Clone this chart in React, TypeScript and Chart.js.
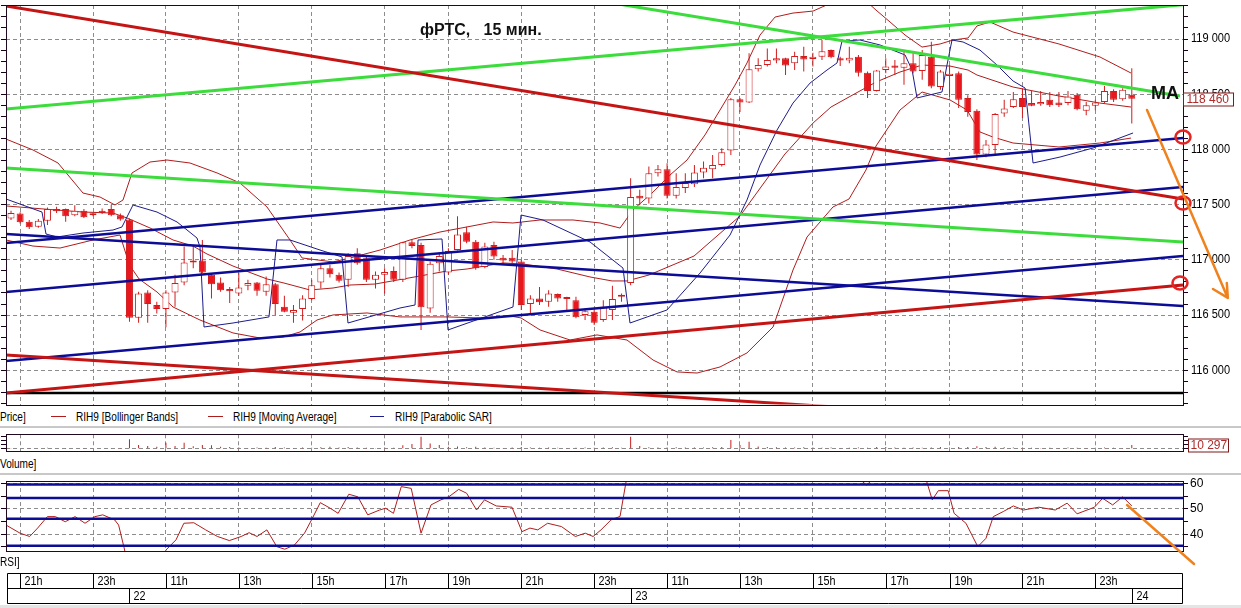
import React, { useEffect, useRef } from 'react';
import { Chart, registerables } from 'chart.js';

Chart.register(...registerables);

const FONT = '"Liberation Sans", Arial, sans-serif';

// ---- time axis (bar index) ----
const X_MIN = -0.55;
const X_MAX = 128.62;
const HOUR_TICKS = [1, 9, 17, 25, 33, 41, 48, 56, 64, 72, 80, 88, 96, 103, 111, 119];
const HOUR_LABELS = ['21h', '23h', '11h', '13h', '15h', '17h', '19h', '21h', '23h', '11h', '13h', '15h', '17h', '19h', '21h', '23h'];
const DAY_TICKS = [13, 68, 123];
const DAY_LABELS = ['22', '23', '24'];

// ---- price axis ----
const PRICE_MIN = 115690;
const PRICE_MAX = 119308;
const PRICE_LABELS = [116000, 116500, 117000, 117500, 118000, 118500, 119000];
const LAST_PRICE = 118460;

// ---- candles (15 min) ----
const OPEN = [
  117375, 117420, 117345, 117300, 117355, 117460, 117460, 117405, 117445, 117420,
  117445, 117460, 117405, 117365, 116475, 116705, 116590, 116555, 116705, 116795,
  116975, 116995, 116865, 116795, 116735, 116695, 116765, 116795, 116710, 116780,
  116575, 116520, 116555, 116645, 116795, 116925, 116865, 116820, 117060, 117015,
  116820, 116865, 116900, 116820, 117160, 117135, 116560, 116970, 116885, 117090,
  117250, 117165, 116935, 117135, 117020, 117020, 116985, 116600, 116650, 116620,
  116690, 116645, 116635, 116500, 116530, 116455, 116545, 116675, 116790, 117580,
  117555, 117785, 117820, 117580, 117650, 117685, 117790, 117820, 117860, 117990,
  118455, 118425, 118725, 118765, 118805, 118825, 118780, 118845, 118820, 118840,
  118900, 118825, 118805, 118840, 118695, 118530, 118720, 118760, 118740, 118780,
  118710, 118840, 118565, 118665, 118690, 118465, 118350, 117955, 118040, 118325,
  118385, 118465, 118420, 118410, 118450, 118425, 118420, 118495, 118350, 118395,
  118430, 118530, 118455, 118495,
];
const HIGH = [
  117445, 117430, 117360, 117370, 117475, 117480, 117465, 117495, 117460, 117425,
  117465, 117500, 117420, 117375, 116710, 116725, 116620, 116725, 116865, 117120,
  117135, 117180, 116880, 116840, 116755, 116880, 116820, 116800, 116850, 116790,
  116675, 116590, 116680, 116820, 116955, 116955, 116885, 117060, 117105, 117030,
  116895, 116925, 116940, 117165, 117180, 117155, 116985, 117065, 117105, 117395,
  117300, 117180, 117155, 117165, 117045, 117090, 117000, 116680, 116755, 116725,
  116695, 116665, 116665, 116560, 116545, 116635, 116765, 116695, 117740, 117635,
  117845, 117860, 117875, 117785, 117785, 117860, 117890, 117950, 118010, 118465,
  118465, 118870, 118825, 118915, 118915, 118830, 118885, 118930, 118875, 118990,
  118905, 118840, 118930, 118855, 118705, 118720, 118825, 118810, 118885, 118870,
  118900, 118975, 118720, 118765, 118705, 118490, 118365, 118085, 118330, 118450,
  118520, 118555, 118530, 118530, 118520, 118520, 118530, 118510, 118430, 118450,
  118575, 118545, 118555, 118735,
];
const LOW = [
  117360, 117330, 117280, 117290, 117315, 117425, 117345, 117395, 117380, 117395,
  117415, 117395, 117355, 116440, 116430, 116430, 116515, 116390, 116575, 116770,
  116925, 116880, 116650, 116710, 116610, 116675, 116725, 116675, 116675, 116500,
  116525, 116430, 116450, 116635, 116740, 116840, 116795, 116755, 116955, 116800,
  116740, 116695, 116800, 116800, 117105, 116365, 116520, 116895, 116865, 117085,
  117150, 116910, 116925, 117000, 116965, 116965, 116545, 116500, 116590, 116575,
  116620, 116530, 116470, 116455, 116410, 116440, 116455, 116620, 116770, 117495,
  117510, 117755, 117555, 117555, 117605, 117660, 117740, 117740, 117845, 117950,
  118340, 118420, 118705, 118750, 118780, 118675, 118720, 118705, 118750, 118810,
  118825, 118755, 118780, 118660, 118465, 118525, 118690, 118675, 118585, 118690,
  118630, 118555, 118540, 118475, 118375, 118295, 117905, 117930, 117950, 118295,
  118375, 118285, 118390, 118395, 118385, 118385, 118400, 118355, 118310, 118355,
  118420, 118430, 118440, 118235,
];
const CLOSE = [
  117425, 117340, 117295, 117355, 117460, 117440, 117395, 117445, 117385, 117405,
  117425, 117405, 117365, 116475, 116695, 116600, 116555, 116705, 116790, 116975,
  116995, 116885, 116780, 116725, 116715, 116750, 116790, 116720, 116780, 116600,
  116530, 116545, 116650, 116770, 116925, 116870, 116810, 117035, 116970, 116820,
  116865, 116890, 116820, 117160, 117125, 116570, 116965, 117035, 117080, 117230,
  117165, 116925, 117120, 117030, 116995, 116985, 116590, 116650, 116615, 116695,
  116650, 116660, 116480, 116535, 116430, 116575, 116645, 116665, 117570, 117555,
  117785, 117820, 117580, 117660, 117695, 117790, 117835, 117860, 117975, 118455,
  118425, 118725, 118765, 118810, 118825, 118760, 118845, 118815, 118840, 118890,
  118835, 118805, 118830, 118695, 118530, 118715, 118750, 118740, 118780, 118705,
  118855, 118570, 118705, 118685, 118450, 118340, 117955, 118045, 118320, 118370,
  118455, 118385, 118395, 118430, 118400, 118400, 118480, 118365, 118400, 118425,
  118530, 118450, 118540, 118460,
];

// ---- indicators (read at sample points: bar index / value) ----
const BB_UP_X = [-0.55, 2.41, 5.16, 7.9, 9.77, 11.41, 12.29, 13.28, 15.25, 17.12, 19.64, 22.61, 25.13, 28.09, 30.62, 31.94, 35.34, 37.2, 40.5, 43.79, 47.08, 50.04, 52.9, 55.09, 58.06, 61.68, 64.64, 66.84, 68.26, 70.46, 72.32, 74.19, 76.16, 77.81, 79.46, 80.77, 82.2, 83.85, 85.82, 88.02, 90.0, 91.97, 93.72, 94.93, 96.47, 98.12, 99.98, 101.96, 103.38, 105.03, 106.01, 107.44, 109.97, 115.01, 119.51, 122.91];
const BB_UP_V = [118094, 117995, 117877, 117605, 117569, 117497, 117542, 117787, 117886, 117904, 117877, 117787, 117696, 117479, 117180, 117017, 116981, 117017, 117089, 117180, 117252, 117298, 117343, 117334, 117361, 117361, 117334, 117288, 117452, 117614, 117768, 117904, 118131, 118357, 118583, 118783, 119036, 119199, 119235, 119253, 119326, 119398, 119353, 119262, 119154, 119036, 118927, 118955, 118991, 119009, 119118, 119154, 119063, 118955, 118837, 118692];
const MA_X = [-0.55, 3.51, 7.9, 11.19, 12.73, 15.25, 17.78, 19.97, 21.51, 24.36, 28.09, 29.96, 32.81, 35.34, 37.2, 39.95, 44.89, 47.85, 50.04, 53.99, 56.19, 59.92, 63.54, 65.96, 67.6, 70.02, 74.96, 80.0, 84.94, 88.02, 89.99, 91.97, 94.93, 97.56, 99.98, 103.05, 105.03, 106.01, 109.97, 115.01, 119.51, 122.91];
const MA_V = [117488, 117461, 117433, 117424, 117379, 117289, 117180, 117125, 117053, 116944, 116827, 116790, 116727, 116745, 116772, 116781, 116854, 116899, 116917, 116972, 116962, 116917, 116845, 116809, 116809, 116863, 117035, 117397, 117959, 118239, 118384, 118475, 118610, 118701, 118764, 118755, 118719, 118674, 118565, 118484, 118420, 118384];
const BB_LO_X = [-0.55, 2.41, 5.38, 9.0, 11.96, 13.0, 14.05, 16.02, 17.78, 20.74, 24.36, 27.33, 29.85, 31.72, 33.58, 35.34, 39.07, 42.69, 47.85, 51.47, 54.76, 55.97, 58.06, 61.35, 64.31, 67.6, 70.46, 73.09, 75.29, 77.81, 80.77, 83.63, 85.82, 87.36, 90.21, 91.97, 93.83, 94.93, 97.56, 99.98, 103.05, 104.92, 106.34, 107.77, 109.97, 115.01, 119.51, 122.91];
const BB_LO_V = [117180, 117125, 117107, 117180, 117225, 116953, 116827, 116709, 116573, 116455, 116338, 116292, 116301, 116347, 116455, 116501, 116519, 116483, 116483, 116474, 116492, 116474, 116365, 116274, 116320, 116274, 116093, 115985, 115975, 116030, 116157, 116392, 116908, 117207, 117479, 117551, 117814, 118031, 118357, 118520, 118448, 118357, 118158, 118112, 118058, 118022, 118058, 118103];
const SAR_X = [-0.55, 3.4, 3.84, 5.05, 7.9, 11.19, 12.18, 13.39, 16.02, 18.22, 20.41, 20.74, 21.18, 24.36, 28.31, 29.19, 30.62, 33.91, 36.33, 36.98, 42.69, 44.34, 44.67, 47.3, 47.96, 55.09, 55.97, 58.38, 63.54, 67.16, 67.93, 71.99, 75.62, 78.91, 80.77, 82.2, 84.07, 85.82, 87.69, 89.55, 90.65, 91.2, 93.17, 95.37, 98.12, 98.89, 99.43, 102.17, 102.72, 103.27, 104.48, 106.34, 108.21, 109.97, 111.29, 112.16, 115.12, 118.75, 123.14];
const SAR_V = [117551, 117433, 117234, 117207, 117243, 117270, 117298, 117497, 117433, 117343, 117198, 117116, 116392, 116428, 116483, 117180, 117180, 117089, 117026, 116428, 116564, 116591, 117180, 117189, 116365, 116573, 117406, 117361, 117162, 116926, 116428, 116546, 116881, 117225, 117542, 117859, 118176, 118420, 118601, 118719, 118783, 118982, 118991, 118946, 118855, 118719, 118466, 118520, 118764, 118991, 118973, 118900, 118764, 118620, 118556, 117877, 117931, 118013, 118149];

// ---- hand-drawn trend lines [barIndex, price] ----
const RED_TREND_1 = [[-0.55, 119299], [128.62, 117551]];
const RED_TREND_2 = [[-0.55, 115794], [128.62, 116772]];
const RED_TREND_3 = [[-0.55, 116138], [97.56, 115631]];
const GREEN_TREND_1 = [[-0.55, 118366], [128.62, 119311]];
const GREEN_TREND_2 = [[64.64, 119344], [128.29, 118484]];
const GREEN_TREND_3 = [[-0.55, 117832], [128.62, 117162]];
const BLUE_TREND_1 = [[-0.55, 117153], [128.62, 118103]];
const BLUE_TREND_2 = [[-0.55, 116709], [128.62, 117660]];
const BLUE_TREND_3 = [[-0.55, 116084], [128.62, 117035]];
const BLUE_TREND_4 = [[-0.55, 117234], [128.62, 116582]];
const BLACK_LEVEL = 115795;
const CIRCLE_X = [128.62, 128.62, 128.29];
const CIRCLE_Y = [118112, 117515, 116791];
const ARROW_MAIN = [[124.67, 118357], [133.54, 116655]];
const ARROW_HEAD = [[133.43, 116790], [131.91, 116736]];

// ---- volume ----
const VOLUME = [
  2000, 1500, 1800, 1200, 2500, 1500, 2000, 1400, 1800, 1000,
  1200, 2200, 1600, 26000, 10000, 7500, 5500, 16500, 7500, 16500,
  7000, 10000, 9500, 5500, 5000, 3000, 2000, 3500, 2500, 4500,
  3000, 2000, 3000, 2500, 4000, 5500, 3000, 4500, 3000, 2500,
  2000, 3000, 2500, 9500, 13000, 33000, 14500, 10000, 5500, 6000,
  4000, 5500, 3000, 2500, 2000, 3000, 4500, 3000, 2500, 3000,
  2500, 2000, 2500, 3000, 2500, 3500, 4000, 2500, 33000, 7500,
  4000, 3500, 3000, 4000, 3000, 3500, 3000, 4000, 5000, 24000,
  10000, 19500, 6000, 5000, 4000, 3500, 3000, 4000, 3000, 2500,
  3000, 2000, 2500, 3000, 2500, 5000, 4500, 3000, 2500, 3000,
  2500, 3500, 5000, 3000, 4500, 5000, 7000, 4500, 5500, 4000,
  3000, 3500, 2500, 2000, 2500, 2000, 3000, 2500, 2000, 2500,
  3000, 2500, 2000, 10297,
];
const VOL_MIN = -6400;
const VOL_MAX = 40000;
const VOL_TICKS = [0, 11000, 22000, 33000];
const LAST_VOLUME = 10297;

// ---- RSI ----
const RSI_X = [-0.55, 0.99, 2.05, 2.92, 3.99, 4.87, 5.95, 7.03, 8.12, 9.21, 10.07, 11.38, 11.81, 12.47, 13, 16, 17.01, 18.11, 18.97, 20.06, 21.36, 22.66, 23.96, 25.26, 26.13, 27.0, 28.08, 29.17, 30.04, 31.12, 32.21, 33.08, 33.94, 35.03, 35.9, 37.07, 38.06, 39.15, 40.45, 41.1, 41.97, 42.83, 43.92, 45.0, 46.09, 47.18, 48.05, 49.13, 50.0, 51.09, 51.96, 53.25, 54.98, 56.08, 56.95, 57.81, 58.89, 60.41, 61.93, 63.02, 63.88, 64.75, 65.84, 66.84, 67.5, 68, 72, 79, 85, 90, 93, 93.9, 95, 98, 100.5, 101.1, 101.77, 102.85, 103.5, 104.8, 106.1, 107.0, 107.8, 108.9, 110.0, 111.1, 112.8, 114.6, 115.9, 117.0, 118.9, 119.8, 120.9, 122.0, 123];
const RSI_V = [43.6, 40.4, 39.1, 42.4, 46.9, 46.9, 44.9, 46.9, 44.3, 46.9, 47.6, 45.6, 43.6, 33.8, 22, 25, 33.8, 37.8, 44.3, 44.5, 41.7, 39.1, 37.5, 39.1, 40.6, 39.1, 41.7, 35.1, 34.1, 35.8, 40.4, 46.3, 52.4, 50.2, 48.2, 55.7, 54.7, 47.6, 49.5, 50.2, 48.2, 58.7, 58.0, 40.4, 51.5, 53.5, 54.7, 57.6, 56.1, 49.5, 53.5, 51.1, 50.6, 41.0, 42.4, 41.7, 44.3, 43.0, 39.1, 40.4, 39.1, 41.7, 45.6, 47.0, 60.6, 68, 70, 75, 72, 66, 62, 59.3, 63, 64, 60.6, 53.5, 57.1, 57.1, 48.2, 44.3, 35.1, 38.4, 46.9, 48.9, 51.1, 49.5, 50.6, 49.5, 52.2, 48.0, 50.6, 54.1, 51.5, 54.7, 51.1];
const RSI_MIN = 33.4;
const RSI_MAX = 60.9;
const RSI_TICKS = [35, 40, 45, 50, 55, 60];
const RSI_LABELS = [40, 50, 60];
const RSI_LEVELS = [59.5, 54.2, 46.1, 35.5];
const RSI_ARROW = [[122.48, 51.47], [129.83, 28.29]];

// ---- styles ----
const GRID_COLOR = '#8c8c8c';
const FRAME_COLOR = '#200a20';
const CANDLE_RED = '#e8161d';
const WICK_RED = '#d01c1c';
const THIN_RED = '#b01c1c';
const TREND_RED = '#c41414';
const TREND_GREEN = '#3cdc3c';
const TREND_BLUE = '#0c0c96';
const SAR_BLUE = '#1c1c8c';
const ORANGE = '#f0821e';

const pts = (xs: number[], ys: number[]) => xs.map((x, i) => ({ x, y: ys[i] }));
const seg = (a: number[][]) => a.map(([x, y]) => ({ x, y }));
const fmtK = (v: number) => String(v).replace(/\B(?=(\d{3})+(?!\d))/g, ' ');

function txt(ctx: any, s: string, x: number, y: number, font: string, sx = 1) {
  ctx.save();
  ctx.font = font;
  ctx.textAlign = 'left';
  ctx.textBaseline = 'middle';
  ctx.translate(x, y);
  ctx.scale(sx, 1);
  ctx.fillText(s, 0, 0);
  ctx.restore();
}

function frame(ctx: any, ca: any) {
  const l = Math.round(ca.left) + 0.5;
  const t = Math.round(ca.top) + 0.5;
  const r = Math.round(ca.right) + 0.5;
  const b = Math.round(ca.bottom) + 0.5;
  ctx.strokeStyle = FRAME_COLOR;
  ctx.lineWidth = 1;
  ctx.setLineDash([]);
  ctx.strokeRect(l, t, r - l, b - t);
}

const lineDs = (data: any[], color: string, width: number, order: number) => ({
  type: 'line',
  data,
  borderColor: color,
  backgroundColor: color,
  borderWidth: width,
  pointRadius: 0,
  pointHoverRadius: 0,
  fill: false,
  tension: 0,
  order,
});

const xScale = () => ({
  type: 'linear',
  min: X_MIN,
  max: X_MAX,
  offset: false,
  afterBuildTicks: (s: any) => {
    s.ticks = HOUR_TICKS.map((v) => ({ value: v }));
  },
  ticks: { display: false },
  grid: { color: GRID_COLOR, lineWidth: 1, drawTicks: false, offset: false },
  border: { display: false, dash: [4, 3] },
  afterFit: (s: any) => {
    s.height = 0;
  },
});

const yScale = (min: number, max: number, ticks: number[], gridVals: number[], position: string, width: number) => ({
  type: 'linear',
  position,
  min,
  max,
  beginAtZero: false,
  afterBuildTicks: (s: any) => {
    s.ticks = ticks.map((v) => ({ value: v }));
  },
  ticks: { display: false },
  grid: {
    drawOnChartArea: position === 'right',
    color: (c: any) => (c.tick && gridVals.indexOf(c.tick.value) >= 0 ? GRID_COLOR : 'rgba(0,0,0,0)'),
    tickColor: '#1a001a',
    tickLength: 5,
    drawTicks: true,
    lineWidth: 1,
  },
  border: { display: false, dash: [4, 3] },
  afterFit: (s: any) => {
    s.width = width;
  },
});

const baseOptions = (padding: any) => ({
  responsive: false,
  maintainAspectRatio: false,
  animation: false,
  devicePixelRatio: 1,
  events: [],
  layout: { padding },
  plugins: { legend: { display: false }, tooltip: { enabled: false } },
});

function mainConfig(): any {
  const priceTicks: number[] = [];
  for (let v = 115700; v <= 119300; v += 100) priceTicks.push(v);
  const idx = OPEN.map((_, i) => i);
  const wickData = idx.map((i) => ({ x: i, y: [LOW[i], HIGH[i]] }));
  const bodyData = idx.map((i) => ({ x: i, y: [Math.min(OPEN[i], CLOSE[i]), Math.max(OPEN[i], CLOSE[i])] }));
  const bodyFill = idx.map((i) => (CLOSE[i] >= OPEN[i] ? '#ffffff' : CANDLE_RED));

  const decor = {
    id: 'mainDecor',
    afterDraw(chart: any) {
      const { ctx, chartArea: ca, scales } = chart;
      const xs = scales.x;
      const ys = scales.y;
      ctx.save();
      frame(ctx, ca);
      ctx.fillStyle = '#000';
      PRICE_LABELS.forEach((v) => txt(ctx, fmtK(v), ca.right + 8, ys.getPixelForValue(v), `12px ${FONT}`, 0.92));

      // title + MA text
      ctx.fillStyle = '#111';
      txt(ctx, 'фРТС,   15 мин.', 420, 31, `bold 16px ${FONT}`);
      txt(ctx, 'MA', 1151, 94, `bold 18px ${FONT}`);

      // red circles
      ctx.strokeStyle = '#e32424';
      ctx.lineWidth = 2.5;
      CIRCLE_X.forEach((cx, i) => {
        ctx.beginPath();
        ctx.ellipse(xs.getPixelForValue(cx), ys.getPixelForValue(CIRCLE_Y[i]), 7.5, 6.5, 0, 0, Math.PI * 2);
        ctx.stroke();
      });

      // orange arrow
      ctx.strokeStyle = ORANGE;
      ctx.lineWidth = 2.5;
      ctx.lineCap = 'round';
      const tipX = xs.getPixelForValue(ARROW_MAIN[1][0]);
      const tipY = ys.getPixelForValue(ARROW_MAIN[1][1]);
      ctx.beginPath();
      ctx.moveTo(xs.getPixelForValue(ARROW_MAIN[0][0]), ys.getPixelForValue(ARROW_MAIN[0][1]));
      ctx.lineTo(tipX, tipY);
      ARROW_HEAD.forEach(([hx, hy]) => {
        ctx.moveTo(xs.getPixelForValue(hx), ys.getPixelForValue(hy));
        ctx.lineTo(tipX, tipY);
      });
      ctx.stroke();

      // last price box
      const py = Math.round(ys.getPixelForValue(LAST_PRICE)) + 0.5;
      const bx = Math.round(ca.right) + 0.5;
      ctx.fillStyle = '#fff';
      ctx.fillRect(bx, py - 6.5, 50, 13);
      ctx.strokeStyle = '#7a1a1a';
      ctx.lineWidth = 1;
      ctx.strokeRect(bx, py - 6.5, 50, 13);
      ctx.fillStyle = '#b02a2a';
      txt(ctx, fmtK(LAST_PRICE), bx + 3, py + 0.5, `12px ${FONT}`);
      ctx.restore();
    },
  };

  return {
    type: 'bar',
    data: {
      datasets: [
        lineDs(seg(RED_TREND_1), TREND_RED, 3, 1),
        lineDs(seg(RED_TREND_2), TREND_RED, 3, 1),
        lineDs(seg(RED_TREND_3), TREND_RED, 3, 1),
        lineDs(seg(GREEN_TREND_1), TREND_GREEN, 3, 1),
        lineDs(seg(GREEN_TREND_2), TREND_GREEN, 3, 1),
        lineDs(seg(GREEN_TREND_3), TREND_GREEN, 3, 1),
        lineDs(seg(BLUE_TREND_1), TREND_BLUE, 2.5, 1),
        lineDs(seg(BLUE_TREND_2), TREND_BLUE, 2.5, 1),
        lineDs(seg(BLUE_TREND_3), TREND_BLUE, 2.5, 1),
        lineDs(seg(BLUE_TREND_4), TREND_BLUE, 2.5, 1),
        lineDs([{ x: X_MIN, y: BLACK_LEVEL }, { x: X_MAX, y: BLACK_LEVEL }], '#000', 2.5, 1),
        {
          type: 'bar',
          data: bodyData,
          backgroundColor: bodyFill,
          borderColor: WICK_RED,
          borderWidth: 1,
          borderSkipped: false,
          barThickness: 7,
          maxBarThickness: 7,
          minBarLength: 2,
          inflateAmount: 0,
          grouped: false,
          order: 5,
        },
        {
          type: 'bar',
          data: wickData,
          backgroundColor: WICK_RED,
          borderWidth: 0,
          barThickness: 1,
          maxBarThickness: 1,
          inflateAmount: 0,
          grouped: false,
          order: 6,
        },
        lineDs(pts(SAR_X, SAR_V), SAR_BLUE, 1, 7),
        lineDs(pts(BB_UP_X, BB_UP_V), THIN_RED, 1, 8),
        lineDs(pts(MA_X, MA_V), THIN_RED, 1, 8),
        lineDs(pts(BB_LO_X, BB_LO_V), THIN_RED, 1, 8),
      ],
    },
    options: {
      ...baseOptions({ left: 0, right: 0, top: 5, bottom: 5.5 }),
      scales: {
        x: xScale(),
        y: yScale(PRICE_MIN, PRICE_MAX, priceTicks, PRICE_LABELS, 'right', 58),
        yl: yScale(PRICE_MIN, PRICE_MAX, priceTicks, [], 'left', 6),
      },
    },
    plugins: [decor],
  };
}

function volumeConfig(): any {
  const decor = {
    id: 'volDecor',
    afterDraw(chart: any) {
      const { ctx, chartArea: ca, scales } = chart;
      ctx.save();
      frame(ctx, ca);
      const vy = Math.round(scales.y.getPixelForValue(LAST_VOLUME)) + 0.5;
      const bx = Math.round(ca.right) + 5.5;
      ctx.strokeStyle = '#7a1a1a';
      ctx.lineWidth = 1;
      ctx.fillStyle = '#fff';
      ctx.fillRect(bx, vy - 6.5, 40, 13);
      ctx.strokeRect(bx, vy - 6.5, 40, 13);
      ctx.fillStyle = '#b02a2a';
      txt(ctx, fmtK(LAST_VOLUME), bx + 2, vy + 0.5, `12px ${FONT}`);
      ctx.restore();
    },
  };
  return {
    type: 'bar',
    data: {
      datasets: [
        {
          type: 'bar',
          data: VOLUME.map((v, i) => ({ x: i, y: v })),
          backgroundColor: '#c82020',
          borderWidth: 0,
          barThickness: 1,
          maxBarThickness: 1,
          inflateAmount: 0,
          grouped: false,
        },
      ],
    },
    options: {
      ...baseOptions({ left: 0, right: 0, top: 6.3, bottom: 5 }),
      scales: {
        x: xScale(),
        y: yScale(VOL_MIN, VOL_MAX, VOL_TICKS, [0], 'right', 58),
        yl: yScale(VOL_MIN, VOL_MAX, VOL_TICKS, [], 'left', 6),
      },
    },
    plugins: [decor],
  };
}

function rsiConfig(): any {
  const decor = {
    id: 'rsiDecor',
    afterDraw(chart: any) {
      const { ctx, chartArea: ca, scales } = chart;
      const xs = scales.x;
      const ys = scales.y;
      ctx.save();
      frame(ctx, ca);
      ctx.fillStyle = '#000';
      RSI_LABELS.forEach((v) => txt(ctx, String(v), ca.right + 7, ys.getPixelForValue(v), `12px ${FONT}`));

      // orange arrow
      ctx.strokeStyle = ORANGE;
      ctx.lineWidth = 2.5;
      ctx.lineCap = 'round';
      ctx.beginPath();
      ctx.moveTo(xs.getPixelForValue(RSI_ARROW[0][0]), ys.getPixelForValue(RSI_ARROW[0][1]));
      ctx.lineTo(xs.getPixelForValue(RSI_ARROW[1][0]), ys.getPixelForValue(RSI_ARROW[1][1]));
      ctx.stroke();

      // time axis
      const L = 7.5;
      const R = 1182.5;
      const r1 = 97.5;
      const r2 = 112.5;
      const r3 = 127.5;
      ctx.strokeStyle = '#000';
      ctx.lineWidth = 1;
      ctx.lineCap = 'butt';
      ctx.beginPath();
      [r1, r2, r3].forEach((yy) => {
        ctx.moveTo(L, yy);
        ctx.lineTo(R, yy);
      });
      ctx.moveTo(L, r1);
      ctx.lineTo(L, r3);
      ctx.moveTo(R, r1);
      ctx.lineTo(R, r3);
      HOUR_TICKS.forEach((v) => {
        const px = Math.round(xs.getPixelForValue(v)) + 0.5;
        ctx.moveTo(px, r1);
        ctx.lineTo(px, r2);
      });
      DAY_TICKS.forEach((v) => {
        const px = Math.round(xs.getPixelForValue(v)) + 0.5;
        ctx.moveTo(px, r2);
        ctx.lineTo(px, r3);
      });
      ctx.stroke();
      ctx.fillStyle = '#000';
      HOUR_TICKS.forEach((v, i) => {
        const px = Math.round(xs.getPixelForValue(v)) + 0.5;
        txt(ctx, HOUR_LABELS[i], px + 4, (r1 + r2) / 2 + 0.5, `12px ${FONT}`, 0.9);
      });
      DAY_TICKS.forEach((v, i) => {
        const px = Math.round(xs.getPixelForValue(v)) + 0.5;
        txt(ctx, DAY_LABELS[i], px + 4, (r2 + r3) / 2 + 0.5, `12px ${FONT}`, 0.9);
      });
      ctx.restore();
    },
  };
  return {
    type: 'line',
    data: {
      datasets: [
        ...RSI_LEVELS.map((lv) => lineDs([{ x: X_MIN, y: lv }, { x: X_MAX, y: lv }], TREND_BLUE, 2.5, 1)),
        lineDs(pts(RSI_X, RSI_V), THIN_RED, 1, 2),
      ],
    },
    options: {
      ...baseOptions({ left: 0, right: 0, top: 5, bottom: 57 }),
      scales: {
        x: xScale(),
        y: yScale(RSI_MIN, RSI_MAX, RSI_TICKS, RSI_LABELS, 'right', 58),
        yl: yScale(RSI_MIN, RSI_MAX, RSI_TICKS, [], 'left', 6),
      },
    },
    plugins: [decor],
  };
}

const labelStyle = (left: number, top: number): any => ({
  position: 'absolute',
  left,
  top,
  fontSize: 12,
  lineHeight: '14px',
  fontFamily: FONT,
  color: '#000',
  whiteSpace: 'pre',
  transform: 'scaleX(0.84)',
  transformOrigin: '0 0',
});

export default function App() {
  const mainRef = useRef<HTMLCanvasElement>(null);
  const volRef = useRef<HTMLCanvasElement>(null);
  const rsiRef = useRef<HTMLCanvasElement>(null);

  useEffect(() => {
    const c1 = new Chart(mainRef.current as HTMLCanvasElement, mainConfig());
    const c2 = new Chart(volRef.current as HTMLCanvasElement, volumeConfig());
    const c3 = new Chart(rsiRef.current as HTMLCanvasElement, rsiConfig());
    return () => {
      c1.destroy();
      c2.destroy();
      c3.destroy();
    };
  }, []);

  return (
    <div
      style={{
        position: 'fixed',
        left: 0,
        top: 0,
        width: 1241,
        height: 608,
        background: '#ffffff',
        overflow: 'hidden',
        fontFamily: FONT,
      }}
    >
      <canvas ref={mainRef} width={1241} height={410} style={{ position: 'absolute', left: 0, top: 0 }} />
      <canvas ref={volRef} width={1241} height={28} style={{ position: 'absolute', left: 0, top: 428 }} />
      <canvas ref={rsiRef} width={1241} height={132} style={{ position: 'absolute', left: 0, top: 476 }} />

      <span style={labelStyle(0, 410)}>Price]</span>
      <div style={{ position: 'absolute', left: 51, top: 416, width: 15, height: 1, background: THIN_RED }} />
      <span style={labelStyle(76, 410)}>RIH9 [Bollinger Bands]</span>
      <div style={{ position: 'absolute', left: 208, top: 416, width: 15, height: 1, background: THIN_RED }} />
      <span style={labelStyle(233, 410)}>RIH9 [Moving Average]</span>
      <div style={{ position: 'absolute', left: 370, top: 416, width: 14, height: 1, background: SAR_BLUE }} />
      <span style={labelStyle(395, 410)}>RIH9 [Parabolic SAR]</span>

      <div style={{ position: 'absolute', left: 0, top: 426, width: 1241, height: 2, background: '#c8c8c8' }} />
      <span style={labelStyle(0, 457)}>Volume]</span>
      <div style={{ position: 'absolute', left: 0, top: 473, width: 1241, height: 2, background: '#c8c8c8' }} />
      <span style={labelStyle(0, 555)}>RSI]</span>
      <div style={{ position: 'absolute', left: 0, top: 605, width: 1241, height: 3, background: '#e4e4e4' }} />
    </div>
  );
}
